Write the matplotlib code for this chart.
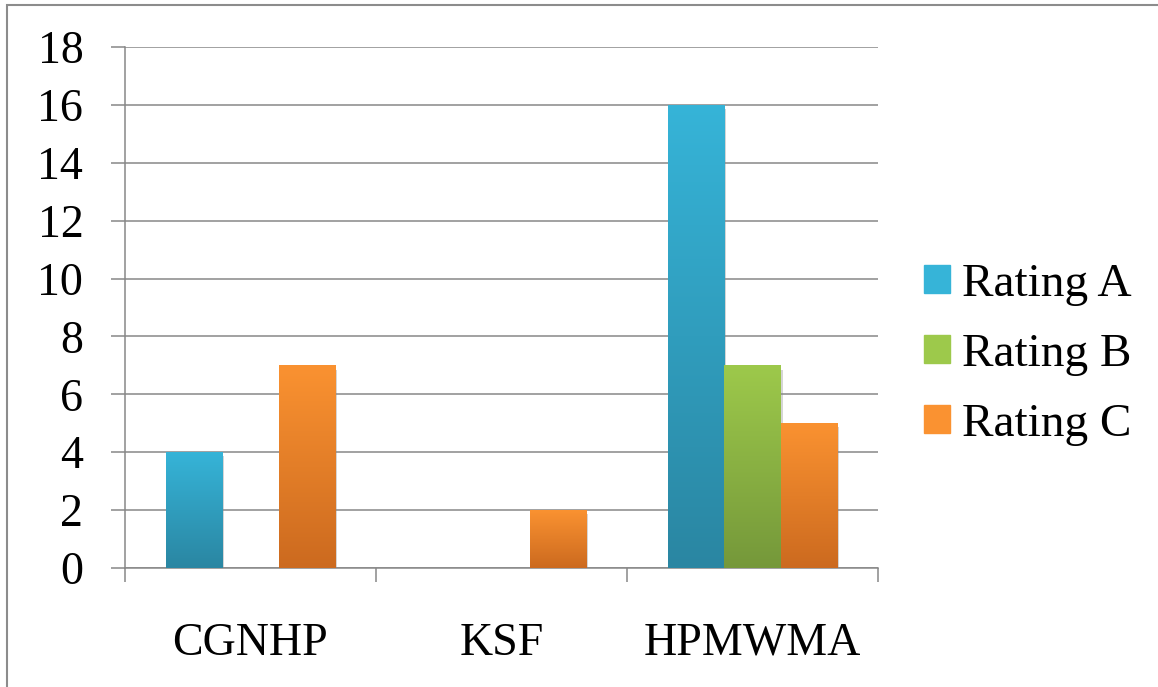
import numpy as np
import matplotlib
matplotlib.use('Agg')
import matplotlib.pyplot as plt
from matplotlib.patches import Patch, Rectangle
from matplotlib.colors import LinearSegmentedColormap
import matplotlib.patheffects as pe

plt.rcParams['font.family'] = ['Liberation Serif', 'DejaVu Serif']

categories = ['CGNHP', 'KSF', 'HPMWMA']
rating_a = [4, 0, 16]
rating_b = [0, 0, 7]
rating_c = [7, 2, 5]
series_names = ['Rating A', 'Rating B', 'Rating C']

# top / bottom colours of each gradient fill
grad = {
    'Rating A': ('#36b4d8', '#2a86a2'),
    'Rating B': ('#9dc94b', '#75983a'),
    'Rating C': ('#fa9231', '#cc6a1f'),
}
grid_col = '#878787'

fig = plt.figure(figsize=(11.58, 6.87), dpi=100)
ax = fig.add_axes([0.1079, 0.1732, 0.6503, 0.7584])

x = np.arange(len(categories))
w = 0.225
offsets = [-w, 0, w]

for name, vals, off in zip(series_names, [rating_a, rating_b, rating_c], offsets):
    top, bot = grad[name]
    cmap = LinearSegmentedColormap.from_list(name, [bot, top])
    bars = ax.bar(x + off, vals, w, color=top, edgecolor='none', zorder=3)
    for b, v in zip(bars, vals):
        if v == 0:
            b.set_visible(False)
            continue
        b.set_path_effects([pe.SimplePatchShadow(offset=(1.5, -3), shadow_rgbFace='#888888', alpha=0.35),
                            pe.Normal()])
        x0, y0 = b.get_x(), b.get_y()
        img = ax.imshow(np.linspace(0, 1, 256).reshape(-1, 1), cmap=cmap, origin='lower',
                        extent=[x0, x0 + b.get_width(), y0, y0 + b.get_height()],
                        aspect='auto', zorder=4, interpolation='bilinear')
        img.set_clip_path(b)

ax.set_xlim(-0.5, 2.5)
ax.set_ylim(0, 18)
ax.set_yticks(range(0, 19, 2))
ax.yaxis.grid(True, color=grid_col, linewidth=1.1, zorder=0)
ax.set_axisbelow(True)

ax.set_xticks(x)
ax.set_xticklabels(categories)
ax.set_xticks([-0.5, 0.5, 1.5, 2.5], minor=True)
ax.tick_params(axis='x', which='major', length=0, labelsize=33, pad=39)
ax.tick_params(axis='x', which='minor', length=10, width=1.1, color=grid_col)
ax.tick_params(axis='y', length=10, width=1.1, color=grid_col, labelsize=33, pad=20)

for s in ['top', 'right']:
    ax.spines[s].set_visible(False)
for s in ['left', 'bottom']:
    ax.spines[s].set_color(grid_col)
    ax.spines[s].set_linewidth(1.1)

handles = [Patch(facecolor=grad[n][0], edgecolor=grad[n][0], label=n) for n in series_names]
fig.legend(handles=handles, loc='center left', bbox_to_anchor=(0.782, 0.484), frameon=False,
           fontsize=34, handlelength=0.55, handleheight=0.55, handletextpad=0.25,
           labelspacing=0.58, borderaxespad=0)

# outer chart border (only top and left edges fall inside the image)
fig.patches.append(Rectangle((7 / 1158, -0.1), 1.2, (687 - 5) / 687 + 0.1,
                             transform=fig.transFigure, fill=False,
                             edgecolor='#8c8c8c', linewidth=1.5))

fig.savefig('out.png', dpi=100)
